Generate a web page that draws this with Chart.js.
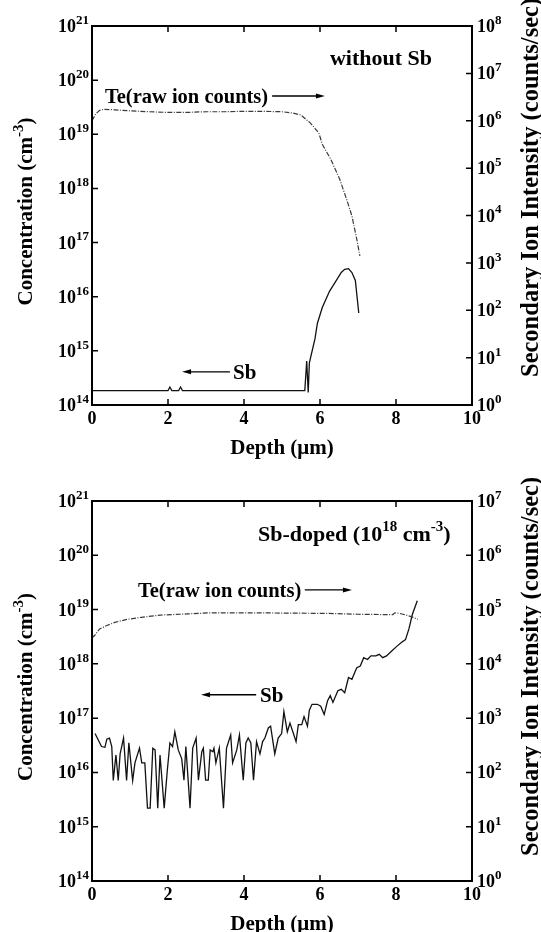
<!DOCTYPE html>
<html>
<head>
<meta charset="utf-8">
<script src="https://cdn.jsdelivr.net/npm/chart.js@4.4.1/dist/chart.umd.min.js"></script>
<style>
  html, body { margin: 0; padding: 0; background: #fff; }
  canvas { display: block; }
</style>
</head>
<body>
<canvas id="topChart" width="541" height="465" style="width:541px;height:465px"></canvas>
<canvas id="bottomChart" width="541" height="467" style="width:541px;height:467px"></canvas>
<script>
// tick labels
const depthTicks = [0, 2, 4, 6, 8, 10];
const concExponents = [14, 15, 16, 17, 18, 19, 20, 21];
const topIntensityExponents = [0, 1, 2, 3, 4, 5, 6, 7, 8];
const bottomIntensityExponents = [0, 1, 2, 3, 4, 5, 6, 7];

// top panel (without Sb) - Te raw counts (right axis), Sb concentration (left axis)
const topTeDepth = [0, 0.1, 0.2, 0.3, 0.6, 1.0, 1.5, 2.0, 2.5, 3.0, 3.5, 4.0, 4.5, 5.0, 5.3, 5.5, 5.75, 5.97, 6.06, 6.29, 6.52, 6.7, 6.84, 6.97, 7.05];
const topTeCounts = [1.0e6, 1.4e6, 1.66e6, 1.74e6, 1.7e6, 1.62e6, 1.55e6, 1.5e6, 1.5e6, 1.55e6, 1.55e6, 1.58e6, 1.58e6, 1.55e6, 1.45e6, 1.32e6, 8.9e5, 5.5e5, 3.2e5, 1.5e5, 5.8e4, 2.2e4, 9.8e3, 3.1e3, 1.4e3];
const topSbDepth = [0, 2.0, 2.05, 2.1, 2.28, 2.33, 2.38, 5.6, 5.65, 5.69, 5.72, 5.87, 5.93, 6.06, 6.25, 6.43, 6.56, 6.65, 6.75, 6.84, 6.93, 7.02];
const topSbConc = [1.85e14, 1.85e14, 2.15e14, 1.85e14, 1.85e14, 2.15e14, 1.85e14, 1.85e14, 6.5e14, 1.7e14, 6.0e14, 1.7e15, 3.2e15, 6.3e15, 1.26e16, 2.0e16, 2.8e16, 3.2e16, 3.3e16, 2.8e16, 2.0e16, 5.0e15];

// bottom panel (Sb-doped)
const botTeDepth = [0, 0.08, 0.2, 0.39, 0.6, 0.92, 1.3, 1.8, 2.5, 3.11, 3.8, 4.42, 5.2, 6.18, 7.0, 7.6, 7.92, 7.97, 8.1, 8.27, 8.45, 8.57];
const botTeCounts = [3.0e4, 3.4e4, 4.4e4, 5.1e4, 5.8e4, 6.6e4, 7.2e4, 7.9e4, 8.3e4, 8.7e4, 8.7e4, 8.7e4, 8.6e4, 8.5e4, 8.2e4, 8.1e4, 8.1e4, 8.7e4, 8.5e4, 7.9e4, 7.2e4, 6.6e4];
const botSbDepth = [0.08, 0.25, 0.34, 0.39, 0.46, 0.52, 0.56, 0.63, 0.69, 0.74, 0.83, 0.91, 0.97, 1.07, 1.13, 1.25, 1.31, 1.39, 1.46, 1.53,
  1.60, 1.66, 1.73, 1.79, 1.90, 1.98, 2.05, 2.12, 2.18, 2.27, 2.36, 2.42, 2.47, 2.58, 2.65, 2.74, 2.80, 2.89, 2.93, 2.99,
  3.06, 3.11, 3.18, 3.21, 3.26, 3.35, 3.46, 3.54, 3.65, 3.70, 3.81, 3.88, 3.98, 4.05, 4.11, 4.18, 4.25, 4.33, 4.42, 4.49,
  4.55, 4.64, 4.70, 4.81, 4.90, 4.99, 5.05, 5.14, 5.21, 5.30, 5.37, 5.43, 5.52, 5.58, 5.67, 5.72, 5.79, 5.93, 6.02, 6.11,
  6.20, 6.27, 6.34, 6.47, 6.56, 6.65, 6.75, 6.84, 6.93, 6.97, 7.06, 7.15, 7.25, 7.34, 7.47, 7.56, 7.65, 7.75, 7.88, 8.02,
  8.15, 8.25, 8.34, 8.43, 8.56];
const botSbConc = [5.2e16, 3.0e16, 2.9e16, 4.1e16, 4.3e16, 3.0e16, 7.1e15, 2.1e16, 7.1e15, 2.2e16, 4.3e16, 7.1e15, 3.5e16, 7.1e15, 1.5e16, 2.8e16, 1.5e16, 1.5e16, 2.2e15, 2.2e15,
  2.8e16, 2.6e16, 2.2e15, 2.1e16, 2.2e15, 1.05e16, 3.5e16, 3.0e16, 5.6e16, 2.6e16, 1.8e16, 7.2e15, 3.0e16, 2.2e15, 2.8e16, 4.3e16, 7.2e15, 2.4e16, 2.8e16, 7.2e15,
  7.2e15, 2.6e16, 2.4e16, 2.8e16, 1.5e16, 2.8e16, 2.2e15, 2.8e16, 4.9e16, 1.5e16, 2.6e16, 4.9e16, 7.2e15, 3.5e16, 4.3e16, 3.5e16, 7.2e15, 3.7e16, 2.2e16, 3.7e16,
  4.3e16, 6.6e16, 7.1e16, 2.2e16, 4.3e16, 5.2e16, 1.32e17, 5.6e16, 8.1e16, 5.2e16, 3.7e16, 7.6e16, 7.6e16, 1.07e17, 7.1e16, 1.4e17, 1.8e17, 1.8e17, 1.66e17, 1.17e17,
  2.1e17, 2.6e17, 1.95e17, 3.2e17, 3.4e17, 2.95e17, 5.6e17, 5.2e17, 7.4e17, 8.5e17, 9.1e17, 1.3e18, 1.2e18, 1.4e18, 1.4e18, 1.5e18, 1.3e18, 1.4e18, 1.7e18, 2.1e18,
  2.5e18, 2.8e18, 4.4e18, 8.1e18, 1.45e19];

const FONT = '"Liberation Serif", "Times New Roman", serif';
const font = size => 'bold ' + size + 'px ' + FONT;

// parts: [[text, isSuperscript], ...]; y is the baseline
function drawRich(ctx, parts, x, y, size, align) {
  const supSize = Math.round(size * 0.7);
  const widths = parts.map(p => { ctx.font = font(p[1] ? supSize : size); return ctx.measureText(p[0]).width; });
  const total = widths.reduce((a, b) => a + b, 0);
  let cx = align === 'right' ? x - total : align === 'center' ? x - total / 2 : x;
  ctx.textAlign = 'left';
  ctx.textBaseline = 'alphabetic';
  parts.forEach((p, i) => {
    ctx.font = font(p[1] ? supSize : size);
    ctx.fillText(p[0], cx, p[1] ? y - size * 0.45 : y);
    cx += widths[i];
  });
}

function arrow(ctx, x1, x2, y) {
  const dir = Math.sign(x2 - x1);
  ctx.lineWidth = 1.3;
  ctx.beginPath();
  ctx.moveTo(x1, y);
  ctx.lineTo(x2 - dir * 7, y);
  ctx.stroke();
  ctx.beginPath();
  ctx.moveTo(x2, y);
  ctx.lineTo(x2 - dir * 9, y - 2.5);
  ctx.lineTo(x2 - dir * 9, y + 2.5);
  ctx.closePath();
  ctx.fill();
}

function framePlugin(cfg) {
  return {
    id: 'frame',
    afterDraw(chart) {
      const ctx = chart.ctx;
      const a = chart.chartArea;
      const sx = chart.scales.x, sy = chart.scales.y, sy2 = chart.scales.y2;
      ctx.save();
      ctx.fillStyle = '#000';
      ctx.strokeStyle = '#000';

      // inward tick marks
      ctx.lineWidth = 1.5;
      ctx.beginPath();
      depthTicks.forEach(v => {
        const px = sx.getPixelForValue(v);
        ctx.moveTo(px, a.bottom); ctx.lineTo(px, a.bottom - 6);
        ctx.moveTo(px, a.top); ctx.lineTo(px, a.top + 6);
      });
      concExponents.forEach(e => {
        const py = sy.getPixelForValue(Math.pow(10, e));
        ctx.moveTo(a.left, py); ctx.lineTo(a.left + 6, py);
      });
      cfg.rightExp.forEach(e => {
        const py = sy2.getPixelForValue(Math.pow(10, e));
        ctx.moveTo(a.right, py); ctx.lineTo(a.right - 6, py);
      });
      ctx.stroke();

      // frame
      ctx.lineWidth = 2;
      ctx.strokeRect(a.left, a.top, a.right - a.left, a.bottom - a.top);

      // tick labels
      depthTicks.forEach(v => {
        drawRich(ctx, [[String(v)]], sx.getPixelForValue(v), a.bottom + 19, 18, 'center');
      });
      concExponents.forEach(e => {
        const py = sy.getPixelForValue(Math.pow(10, e));
        drawRich(ctx, [['10'], [String(e), true]], a.left - 3, py + 6, 18, 'right');
      });
      cfg.rightExp.forEach(e => {
        const py = sy2.getPixelForValue(Math.pow(10, e));
        drawRich(ctx, [['10'], [String(e), true]], a.right + 5, py + 6, 18, 'left');
      });

      // axis titles
      drawRich(ctx, [['Depth (\u03bcm)']], (a.left + a.right) / 2, cfg.depthBase, 21, 'center');
      ctx.save();
      ctx.translate(32, (a.top + a.bottom) / 2 - 4);
      ctx.rotate(-Math.PI / 2);
      drawRich(ctx, [['Concentration (cm'], ['-3', true], [')']], 0, 0, 21, 'center');
      ctx.restore();
      ctx.save();
      ctx.translate(538, cfg.rightTitleStart);
      ctx.rotate(-Math.PI / 2);
      drawRich(ctx, [['Secondary Ion Intensity (counts/sec)']], 0, 0, 24.5, 'left');
      ctx.restore();

      // annotations, placed in data coordinates
      cfg.notes.forEach(n => {
        const px = sx.getPixelForValue(n.x);
        const py = sy.getPixelForValue(n.y);
        drawRich(ctx, n.parts, px, py + 7, n.size, 'left');
      });
      cfg.arrows.forEach(r => {
        arrow(ctx, sx.getPixelForValue(r.x1), sx.getPixelForValue(r.x2), sy.getPixelForValue(r.y));
      });
      ctx.restore();
    }
  };
}

function makeChart(id, cfg) {
  const teData = cfg.teDepth.map((d, i) => ({ x: d, y: cfg.teCounts[i] }));
  const sbData = cfg.sbDepth.map((d, i) => ({ x: d, y: cfg.sbConc[i] }));
  const hidden = { ticks: { display: false }, grid: { display: false }, border: { display: false } };
  return new Chart(document.getElementById(id), {
    type: 'line',
    data: {
      datasets: [
        { label: 'Te', data: teData, yAxisID: 'y2', borderColor: '#3a3a3a', borderWidth: 1.2, borderDash: [5, 1.5, 1, 1.5], pointRadius: 0, tension: 0 },
        { label: 'Sb', data: sbData, yAxisID: 'y', borderColor: '#111', borderWidth: 1.3, pointRadius: 0, tension: 0 }
      ]
    },
    options: {
      responsive: false,
      animation: false,
      devicePixelRatio: 1,
      layout: { padding: { top: cfg.padTop, left: 0, right: 0, bottom: 0 } },
      plugins: { legend: { display: false }, tooltip: { enabled: false } },
      scales: {
        x: { type: 'linear', min: 0, max: 10, ...hidden, afterFit: s => { s.height = cfg.xHeight; } },
        y: { type: 'logarithmic', position: 'left', min: 1e14, max: 1e21, ...hidden, afterFit: s => { s.width = 92; } },
        y2: { type: 'logarithmic', position: 'right', min: 1, max: cfg.rightMax, ...hidden, afterFit: s => { s.width = 69; } }
      }
    },
    plugins: [framePlugin(cfg)]
  });
}

makeChart('topChart', {
  teDepth: topTeDepth, teCounts: topTeCounts, sbDepth: topSbDepth, sbConc: topSbConc,
  padTop: 26, xHeight: 60, rightMax: 1e8, rightExp: topIntensityExponents,
  depthBase: 454, rightTitleStart: 377,
  notes: [
    { parts: [['without Sb']], x: 6.26, y: 2.6e20, size: 22 },
    { parts: [['Te(raw ion counts)']], x: 0.34, y: 5.1e19, size: 20.5 },
    { parts: [['Sb']], x: 3.71, y: 4.1e14, size: 21 }
  ],
  arrows: [{ x1: 4.74, x2: 6.13, y: 5.1e19 }, { x1: 3.63, x2: 2.37, y: 4.1e14 }]
});

makeChart('bottomChart', {
  teDepth: botTeDepth, teCounts: botTeCounts, sbDepth: botSbDepth, sbConc: botSbConc,
  padTop: 36, xHeight: 51, rightMax: 1e7, rightExp: bottomIntensityExponents,
  depthBase: 465, rightTitleStart: 391,
  notes: [
    { parts: [['Sb-doped (10'], ['18', true], [' cm'], ['-3', true], [')']], x: 4.37, y: 2.45e20, size: 22 },
    { parts: [['Te(raw ion counts)']], x: 1.21, y: 2.3e19, size: 20.5 },
    { parts: [['Sb']], x: 4.42, y: 2.7e17, size: 21 }
  ],
  arrows: [{ x1: 5.6, x2: 6.84, y: 2.3e19 }, { x1: 4.32, x2: 2.87, y: 2.7e17 }]
});
</script>
</body>
</html>
